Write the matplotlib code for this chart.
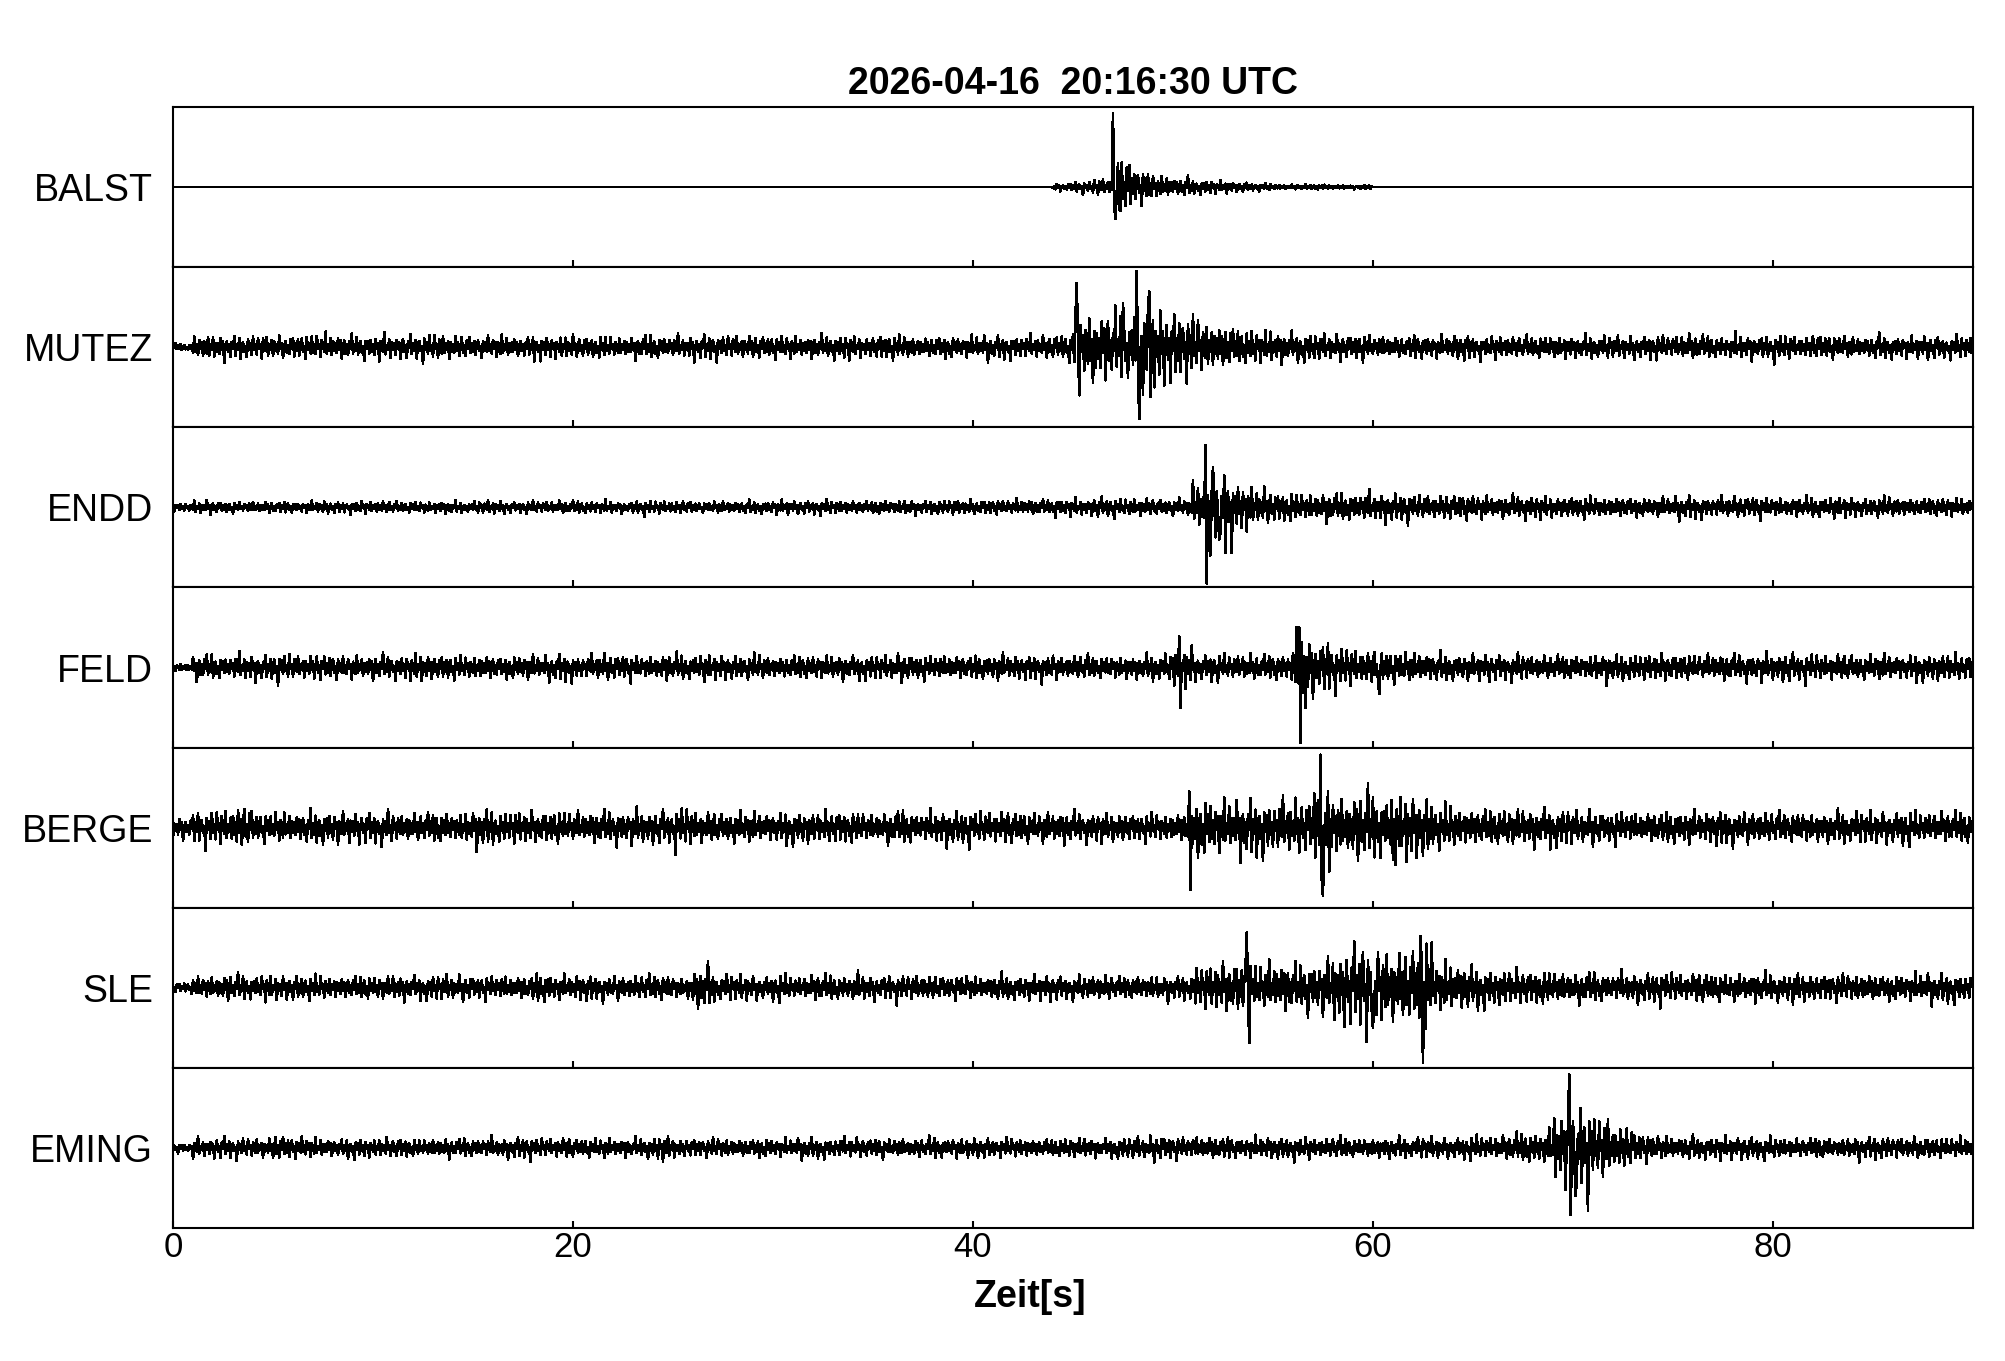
#!/usr/bin/env python3
"""Seismogram overview - seven stations, one event"""

import numpy as np
import matplotlib
matplotlib.use('Agg')  # Use non-interactive backend
import matplotlib.pyplot as plt

plt.rcParams['font.family'] = ['Liberation Sans', 'DejaVu Sans']

stations = ['BALST', 'MUTEZ', 'ENDD', 'FELD', 'BERGE', 'SLE', 'EMING']
title_text = '2026-04-16  20:16:30 UTC'
x_label = 'Zeit[s]'
x_ticks = [0, 20, 40, 60, 80]
duration = 90   # seconds
rate = 16       # samples per second

# Peak amplitude per second (fraction of half a panel)
env_balst = [0.0, 0.0, 0.0, 0.0, 0.0, 0.0, 0.0, 0.0, 0.0, 0.0,
             0.0, 0.0, 0.0, 0.0, 0.0, 0.0, 0.0, 0.0, 0.0, 0.0,
             0.0, 0.0, 0.0, 0.0, 0.0, 0.0, 0.0, 0.0, 0.0, 0.0,
             0.0, 0.0, 0.0, 0.0, 0.0, 0.0, 0.0, 0.0, 0.0, 0.0,
             0.0, 0.0, 0.0, 0.0, 0.04, 0.06, 0.09, 0.30, 0.20, 0.13,
             0.10, 0.08, 0.07, 0.05, 0.04, 0.03, 0.03, 0.03, 0.02, 0.02,
             0.0, 0.0, 0.0, 0.0, 0.0, 0.0, 0.0, 0.0, 0.0, 0.0,
             0.0, 0.0, 0.0, 0.0, 0.0, 0.0, 0.0, 0.0, 0.0, 0.0,
             0.0, 0.0, 0.0, 0.0, 0.0, 0.0, 0.0, 0.0, 0.0, 0.0]
env_mutez = [0.04, 0.14, 0.13, 0.12, 0.13, 0.12, 0.13, 0.15, 0.13, 0.12,
             0.13, 0.12, 0.13, 0.14, 0.13, 0.12, 0.13, 0.12, 0.13, 0.13,
             0.12, 0.13, 0.12, 0.13, 0.13, 0.12, 0.13, 0.12, 0.13, 0.12,
             0.13, 0.12, 0.13, 0.13, 0.12, 0.14, 0.13, 0.12, 0.13, 0.12,
             0.13, 0.12, 0.13, 0.12, 0.13, 0.36, 0.36, 0.34, 0.46, 0.42,
             0.38, 0.30, 0.26, 0.21, 0.19, 0.17, 0.15, 0.14, 0.13, 0.14,
             0.13, 0.12, 0.13, 0.12, 0.14, 0.12, 0.13, 0.12, 0.13, 0.14,
             0.12, 0.13, 0.12, 0.13, 0.12, 0.14, 0.13, 0.12, 0.13, 0.12,
             0.13, 0.12, 0.14, 0.13, 0.12, 0.13, 0.12, 0.13, 0.12, 0.13]
env_endd = [0.04, 0.07, 0.06, 0.06, 0.07, 0.06, 0.06, 0.07, 0.06, 0.07,
            0.07, 0.06, 0.07, 0.07, 0.06, 0.07, 0.07, 0.06, 0.07, 0.07,
            0.07, 0.07, 0.06, 0.07, 0.07, 0.07, 0.06, 0.07, 0.07, 0.07,
            0.08, 0.07, 0.08, 0.08, 0.07, 0.08, 0.08, 0.07, 0.08, 0.08,
            0.08, 0.08, 0.09, 0.08, 0.09, 0.09, 0.10, 0.09, 0.10, 0.09,
            0.10, 0.28, 0.42, 0.28, 0.19, 0.17, 0.16, 0.16, 0.15, 0.16,
            0.15, 0.14, 0.13, 0.13, 0.14, 0.13, 0.12, 0.13, 0.12, 0.12,
            0.12, 0.11, 0.12, 0.11, 0.11, 0.12, 0.11, 0.11, 0.11, 0.11,
            0.11, 0.10, 0.11, 0.11, 0.10, 0.11, 0.11, 0.10, 0.11, 0.10]
env_feld = [0.05, 0.14, 0.13, 0.14, 0.13, 0.14, 0.13, 0.14, 0.13, 0.13,
            0.14, 0.13, 0.16, 0.14, 0.13, 0.14, 0.13, 0.14, 0.13, 0.14,
            0.13, 0.14, 0.13, 0.13, 0.14, 0.13, 0.14, 0.13, 0.13, 0.14,
            0.13, 0.14, 0.13, 0.14, 0.13, 0.13, 0.14, 0.13, 0.14, 0.13,
            0.13, 0.14, 0.13, 0.14, 0.13, 0.14, 0.13, 0.14, 0.13, 0.15,
            0.24, 0.15, 0.14, 0.15, 0.14, 0.15, 0.33, 0.28, 0.21, 0.19,
            0.19, 0.18, 0.17, 0.15, 0.14, 0.15, 0.14, 0.15, 0.14, 0.14,
            0.14, 0.15, 0.14, 0.14, 0.15, 0.14, 0.14, 0.15, 0.14, 0.14,
            0.15, 0.14, 0.14, 0.15, 0.14, 0.15, 0.14, 0.14, 0.15, 0.14]
env_berge = [0.12, 0.17, 0.19, 0.23, 0.17, 0.18, 0.17, 0.18, 0.17, 0.17,
             0.18, 0.17, 0.17, 0.18, 0.17, 0.20, 0.17, 0.18, 0.17, 0.18,
             0.17, 0.18, 0.17, 0.18, 0.17, 0.21, 0.18, 0.17, 0.18, 0.17,
             0.17, 0.18, 0.17, 0.18, 0.17, 0.17, 0.18, 0.17, 0.18, 0.17,
             0.17, 0.18, 0.17, 0.17, 0.18, 0.17, 0.16, 0.17, 0.16, 0.16,
             0.17, 0.33, 0.29, 0.30, 0.29, 0.29, 0.29, 0.42, 0.36, 0.36,
             0.34, 0.36, 0.33, 0.24, 0.22, 0.21, 0.21, 0.20, 0.21, 0.20,
             0.18, 0.17, 0.18, 0.17, 0.17, 0.18, 0.17, 0.19, 0.17, 0.18,
             0.17, 0.18, 0.17, 0.17, 0.18, 0.17, 0.18, 0.17, 0.17, 0.18]
env_sle = [0.05, 0.13, 0.14, 0.13, 0.14, 0.13, 0.14, 0.13, 0.13, 0.14,
           0.13, 0.14, 0.13, 0.14, 0.13, 0.13, 0.14, 0.13, 0.16, 0.13,
           0.14, 0.13, 0.13, 0.14, 0.15, 0.13, 0.23, 0.15, 0.14, 0.13,
           0.14, 0.13, 0.15, 0.13, 0.14, 0.13, 0.13, 0.14, 0.13, 0.14,
           0.13, 0.14, 0.13, 0.14, 0.13, 0.13, 0.15, 0.13, 0.14, 0.13,
           0.13, 0.24, 0.27, 0.28, 0.27, 0.27, 0.26, 0.27, 0.40, 0.42,
           0.42, 0.40, 0.46, 0.29, 0.27, 0.21, 0.20, 0.19, 0.19, 0.18,
           0.17, 0.16, 0.16, 0.15, 0.16, 0.15, 0.16, 0.15, 0.15, 0.16,
           0.15, 0.16, 0.15, 0.15, 0.16, 0.15, 0.15, 0.16, 0.15, 0.15]
env_eming = [0.05, 0.10, 0.11, 0.10, 0.11, 0.14, 0.12, 0.11, 0.10, 0.11,
             0.10, 0.11, 0.10, 0.11, 0.10, 0.11, 0.10, 0.11, 0.10, 0.11,
             0.10, 0.11, 0.10, 0.11, 0.13, 0.11, 0.10, 0.11, 0.10, 0.11,
             0.10, 0.11, 0.10, 0.11, 0.10, 0.10, 0.11, 0.10, 0.11, 0.10,
             0.11, 0.10, 0.11, 0.10, 0.11, 0.11, 0.10, 0.11, 0.12, 0.13,
             0.12, 0.13, 0.12, 0.11, 0.12, 0.11, 0.12, 0.11, 0.12, 0.11,
             0.12, 0.11, 0.12, 0.11, 0.12, 0.13, 0.13, 0.17, 0.17, 0.38,
             0.46, 0.33, 0.24, 0.17, 0.14, 0.13, 0.12, 0.13, 0.12, 0.12,
             0.12, 0.11, 0.12, 0.11, 0.12, 0.12, 0.11, 0.12, 0.11, 0.12]

# Largest single swings (time in s, amplitude)
spk_balst = [(47.0, 0.92), (47.1, -0.40), (47.25, 0.30), (47.4, -0.30)]
spk_mutez = [(45.2, 0.80), (45.3, -0.60), (46.0, -0.45), (47.5, 0.55),
             (48.2, 0.95), (48.3, -0.90), (48.8, 0.70), (48.9, -0.62)]
spk_endd = [(51.6, 0.78), (51.7, -0.95), (51.85, -0.60), (52.0, 0.50), (52.3, -0.40)]
spk_feld = [(50.3, 0.39), (50.4, -0.50), (56.3, 0.50), (56.4, -0.94),
            (56.6, -0.50), (60.3, -0.33)]
spk_berge = [(50.8, 0.45), (50.9, -0.78), (57.4, 0.91), (57.5, -0.85),
             (57.8, -0.55), (61.0, -0.40)]
spk_sle = [(53.7, 0.69), (53.8, -0.69), (59.5, 0.45), (60.0, -0.50),
           (62.4, 0.65), (62.5, -0.93), (62.7, 0.55)]
spk_eming = [(69.8, 0.92), (69.9, -0.83), (70.1, -0.60), (70.4, 0.50)]

# Typed wiggle shapes used as the noise texture inside the envelopes
wiggle_a = [0.3, -0.5, 0.8, -0.2, 0.4, -0.9, 0.1, 0.6, -0.4, 0.2, -0.7, 0.5,
            -0.1, 0.9, -0.6, 0.3, -0.3, 0.7, -0.8, 0.2, 0.5, -0.4, 0.1, -1.0,
            0.6, -0.2, 0.4, -0.5, 0.8, -0.3, 0.2, -0.6, 0.7, -0.1, 0.3, -0.8,
            0.5, 0.1, -0.4, 0.9, -0.5, 0.2, -0.2, 0.6, -0.7, 0.4, -0.3]
wiggle_b = [-0.4, 0.6, 0.2, -0.7, 0.3, -0.2, 0.9, -0.5, 0.1, -0.8, 0.4, 0.5,
            -0.3, 0.2, -0.6, 1.0, -0.4, -0.1, 0.3, -0.9, 0.6, -0.2, 0.4, -0.5,
            0.7, -0.3, 0.1, -0.6, 0.8, -0.1, 0.2]

envelopes = [env_balst, env_mutez, env_endd, env_feld, env_berge, env_sle, env_eming]
spikes = [spk_balst, spk_mutez, spk_endd, spk_feld, spk_berge, spk_sle, spk_eming]


def build_trace(idx, n):
    k = np.arange(n)
    wa = np.array(wiggle_a)[(k + 11 * idx) % len(wiggle_a)]
    wb = np.array(wiggle_b)[(k + 5 * idx) % len(wiggle_b)]
    # second wiggle only scales the first, so they never cancel out
    carrier = wa * (0.5 + 0.5 * np.abs(wb))
    env = np.repeat(np.array(envelopes[idx]), rate)[:n]
    trace = env * carrier * 1.7
    for ts, val in spikes[idx]:
        trace[int(round(ts * rate))] = val
    return trace


t = np.arange(duration * rate) / rate

fig, axes = plt.subplots(len(stations), 1, sharex=True, figsize=(20.05, 13.61), dpi=100)
fig.subplots_adjust(left=0.0863, right=0.984, top=0.9214, bottom=0.0977, hspace=0)

for i, ax in enumerate(axes):
    ax.plot(t, build_trace(i, len(t)), color='black', lw=1.2, antialiased=False)
    ax.set_xlim(0, duration)
    ax.set_ylim(-1, 1)
    ax.set_yticks([])
    ax.set_xticks(x_ticks)
    ax.tick_params(axis='x', direction='in', length=5, width=1.5,
                   top=False, bottom=True, labelsize=25, pad=2)
    for sp in ax.spines.values():
        sp.set_linewidth(1.5)
    ax.annotate(stations[i], xy=(0, 0.5), xycoords='axes fraction',
                xytext=(-14.4, 0), textcoords='offset points',
                ha='right', va='center_baseline', fontsize=27)

axes[0].set_title(title_text, fontsize=27, fontweight='bold', pad=9)
axes[-1].set_xlabel(x_label, fontsize=27, fontweight='bold')
axes[-1].xaxis.set_label_coords(0.476, -0.32)
axes[-1].xaxis.label.set_va('top')

fig.savefig('out.png', dpi=100)
